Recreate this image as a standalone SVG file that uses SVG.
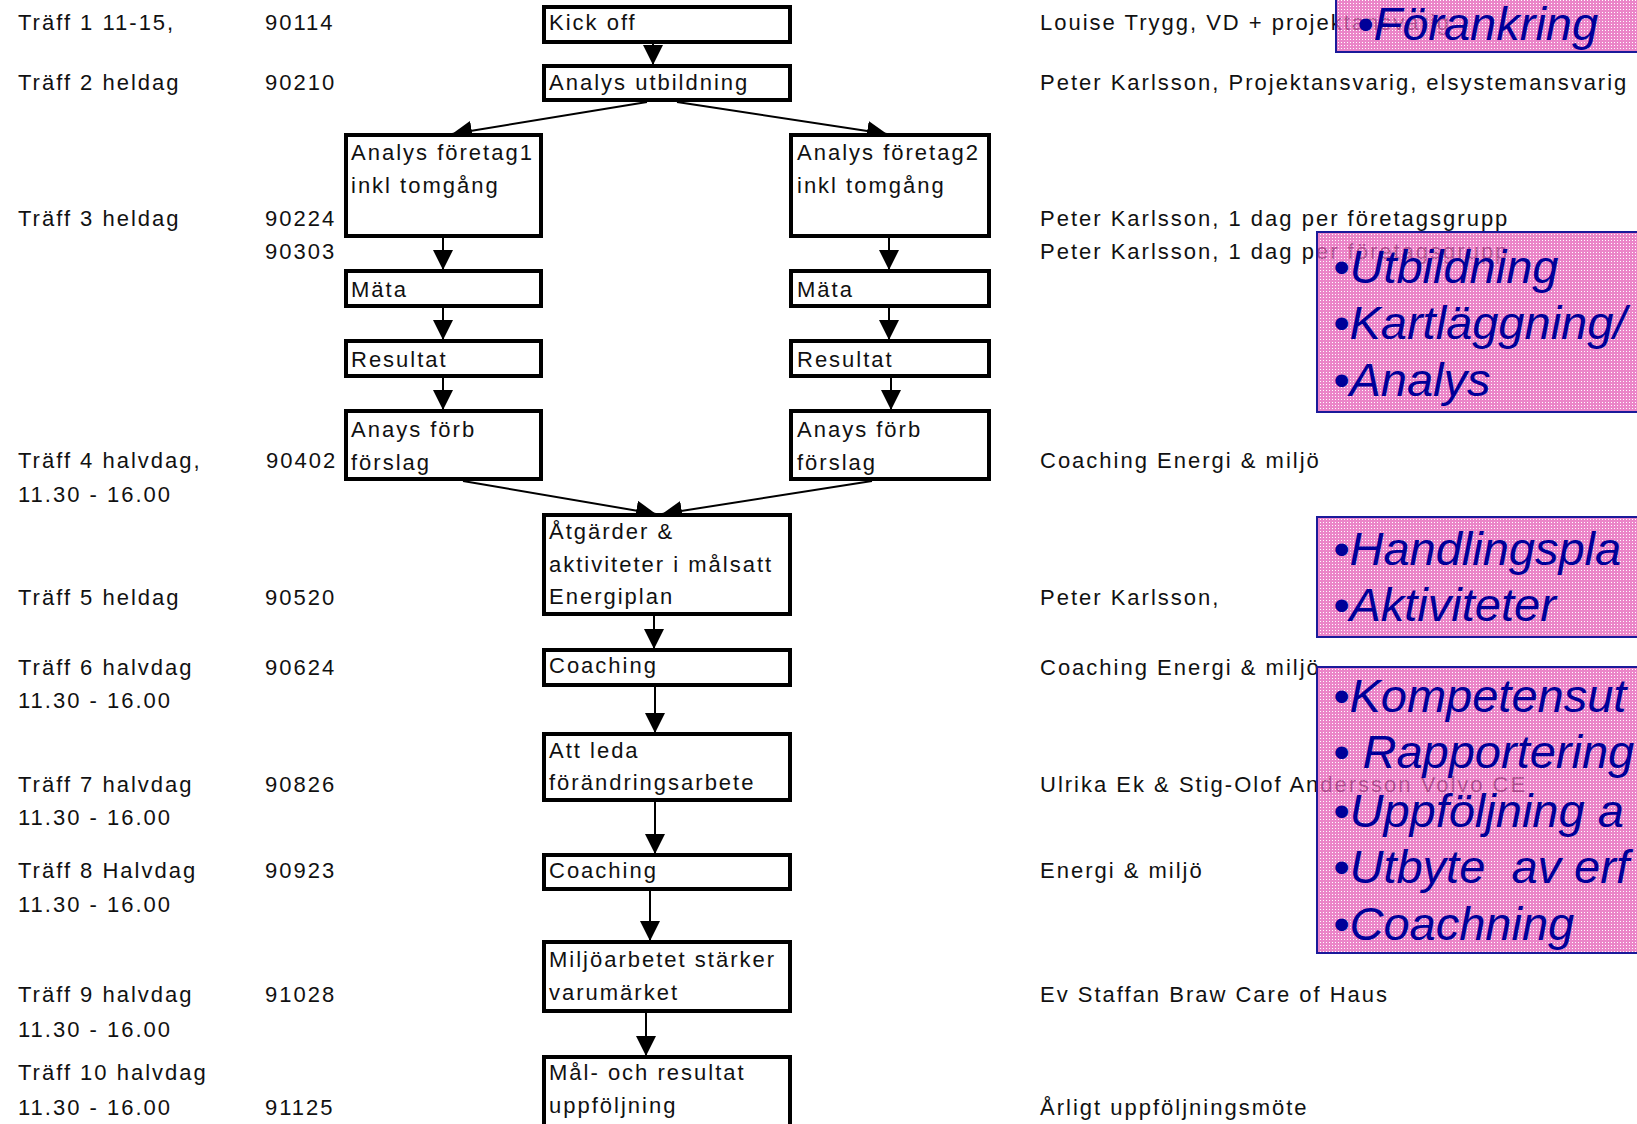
<svg xmlns="http://www.w3.org/2000/svg" width="1637" height="1124" viewBox="0 0 1637 1124">
<style>
  .t { font-family: "Liberation Sans", Arial, sans-serif; font-size: 22px; letter-spacing: 2px; fill: #111; }
  .box { fill: #fff; stroke: #000; stroke-width: 4; }
  .conn { stroke: #000; stroke-width: 2; fill: none; marker-end: url(#arr); }
  .pink { fill: url(#pk); fill-opacity: 0.75; stroke: #1a1a9a; stroke-width: 2; }
  .pt { font-family: "Liberation Sans", Arial, sans-serif; font-size: 47px; font-style: italic; fill: #000099; }
</style>
<defs>
  <marker id="arr" markerUnits="userSpaceOnUse" markerWidth="20" markerHeight="20" refX="20" refY="10" orient="auto">
    <path d="M0,0 L20,10 L0,20 z" fill="#000"/>
  </marker>
  <pattern id="pk" width="3" height="3" patternUnits="userSpaceOnUse">
    <rect width="3" height="3" fill="#e45cb6"/>
    <rect width="1" height="1" fill="#fff"/>
  </pattern>
</defs>
<rect width="1637" height="1124" fill="#fff"/>

<g id="left-column">
  <text class="t" x="18" y="30">Träff 1 11-15,</text>
  <text class="t" x="265" y="30">90114</text>
  <text class="t" x="18" y="90">Träff 2 heldag</text>
  <text class="t" x="265" y="90">90210</text>
  <text class="t" x="18" y="226">Träff 3 heldag</text>
  <text class="t" x="265" y="226">90224</text>
  <text class="t" x="265" y="259">90303</text>
  <text class="t" x="18" y="468">Träff 4 halvdag,</text>
  <text class="t" x="18" y="502">11.30 - 16.00</text>
  <text class="t" x="266" y="468">90402</text>
  <text class="t" x="18" y="605">Träff 5 heldag</text>
  <text class="t" x="265" y="605">90520</text>
  <text class="t" x="18" y="675">Träff 6 halvdag</text>
  <text class="t" x="18" y="708">11.30 - 16.00</text>
  <text class="t" x="265" y="675">90624</text>
  <text class="t" x="18" y="792">Träff 7 halvdag</text>
  <text class="t" x="18" y="825">11.30 - 16.00</text>
  <text class="t" x="265" y="792">90826</text>
  <text class="t" x="18" y="878">Träff 8 Halvdag</text>
  <text class="t" x="18" y="912">11.30 - 16.00</text>
  <text class="t" x="265" y="878">90923</text>
  <text class="t" x="18" y="1002">Träff 9 halvdag</text>
  <text class="t" x="18" y="1037">11.30 - 16.00</text>
  <text class="t" x="265" y="1002">91028</text>
  <text class="t" x="18" y="1080">Träff 10 halvdag</text>
  <text class="t" x="18" y="1115">11.30 - 16.00</text>
  <text class="t" x="265" y="1115">91125</text>
</g>

<g id="right-column">
  <text class="t" x="1040" y="30">Louise Trygg, VD + projektansvarig</text>
  <text class="t" x="1040" y="90">Peter Karlsson, Projektansvarig, elsystemansvarig</text>
  <text class="t" x="1040" y="226">Peter Karlsson, 1 dag per företagsgrupp</text>
  <text class="t" x="1040" y="259">Peter Karlsson, 1 dag per företagsgrupp</text>
  <text class="t" x="1040" y="468">Coaching Energi &amp; miljö</text>
  <text class="t" x="1040" y="605">Peter Karlsson,</text>
  <text class="t" x="1040" y="675">Coaching Energi &amp; miljö</text>
  <text class="t" x="1040" y="792">Ulrika Ek &amp; Stig-Olof Andersson Volvo CE</text>
  <text class="t" x="1040" y="878">Energi &amp; miljö</text>
  <text class="t" x="1040" y="1002">Ev Staffan Braw Care of Haus</text>
  <text class="t" x="1040" y="1115">Årligt uppföljningsmöte</text>
</g>

<g id="connectors">
  <path class="conn" d="M653,44 V65"/>
  <path class="conn" d="M647,102 L452,134"/>
  <path class="conn" d="M677,102 L887,134"/>
  <path class="conn" d="M443,238 V270"/>
  <path class="conn" d="M443,308 V340"/>
  <path class="conn" d="M443,378 V410"/>
  <path class="conn" d="M889,238 V270"/>
  <path class="conn" d="M889,308 V340"/>
  <path class="conn" d="M891,378 V410"/>
  <path class="conn" d="M463,481 L656,514"/>
  <path class="conn" d="M872,481 L662,514"/>
  <path class="conn" d="M654,616 V649"/>
  <path class="conn" d="M655,687 V733"/>
  <path class="conn" d="M655,802 V854"/>
  <path class="conn" d="M650,891 V941"/>
  <path class="conn" d="M646,1013 V1056"/>
</g>

<g id="kickoff"><rect class="box" x="544" y="7" width="246" height="35"/><text class="t" x="549" y="30">Kick off</text></g>
<g id="analys-utbildning"><rect class="box" x="544" y="66" width="246" height="34"/><text class="t" x="549" y="90">Analys utbildning</text></g>
<g id="analys-foretag1"><rect class="box" x="346" y="135" width="195" height="101"/><text class="t" x="351" y="160">Analys företag1</text><text class="t" x="351" y="193">inkl tomgång</text></g>
<g id="analys-foretag2"><rect class="box" x="791" y="135" width="198" height="101"/><text class="t" x="797" y="160">Analys företag2</text><text class="t" x="797" y="193">inkl tomgång</text></g>
<g id="mata1"><rect class="box" x="346" y="271" width="195" height="35"/><text class="t" x="351" y="297">Mäta</text></g>
<g id="mata2"><rect class="box" x="791" y="271" width="198" height="35"/><text class="t" x="797" y="297">Mäta</text></g>
<g id="resultat1"><rect class="box" x="346" y="341" width="195" height="35"/><text class="t" x="351" y="367">Resultat</text></g>
<g id="resultat2"><rect class="box" x="791" y="341" width="198" height="35"/><text class="t" x="797" y="367">Resultat</text></g>
<g id="anays1"><rect class="box" x="346" y="411" width="195" height="68"/><text class="t" x="351" y="437">Anays förb</text><text class="t" x="351" y="470">förslag</text></g>
<g id="anays2"><rect class="box" x="791" y="411" width="198" height="68"/><text class="t" x="797" y="437">Anays förb</text><text class="t" x="797" y="470">förslag</text></g>
<g id="atgarder"><rect class="box" x="544" y="515" width="246" height="99"/><text class="t" x="549" y="539">Åtgärder &amp;</text><text class="t" x="549" y="572">aktiviteter i målsatt</text><text class="t" x="549" y="604">Energiplan</text></g>
<g id="coaching1"><rect class="box" x="544" y="650" width="246" height="35"/><text class="t" x="549" y="673">Coaching</text></g>
<g id="att-leda"><rect class="box" x="544" y="734" width="246" height="66"/><text class="t" x="549" y="758">Att leda</text><text class="t" x="549" y="790">förändringsarbete</text></g>
<g id="coaching2"><rect class="box" x="544" y="855" width="246" height="34"/><text class="t" x="549" y="878">Coaching</text></g>
<g id="miljo"><rect class="box" x="544" y="942" width="246" height="69"/><text class="t" x="549" y="967">Miljöarbetet stärker</text><text class="t" x="549" y="1000">varumärket</text></g>
<g id="mal"><rect class="box" x="544" y="1057" width="246" height="80"/><text class="t" x="549" y="1080">Mål- och resultat</text><text class="t" x="549" y="1113">uppföljning</text></g>

<g id="pink-forankring"><rect class="pink" x="1336" y="-4" width="310" height="56"/><text class="pt" x="1357" y="40">•Förankring</text></g>
<g id="pink-utbildning"><rect class="pink" x="1317" y="232" width="330" height="180"/><text class="pt" x="1333" y="283">•Utbildning</text><text class="pt" x="1333" y="339">•Kartläggning/</text><text class="pt" x="1333" y="396">•Analys</text></g>
<g id="pink-handlingsplan"><rect class="pink" x="1317" y="517" width="330" height="120"/><text class="pt" x="1333" y="565">•Handlingspla</text><text class="pt" x="1333" y="621">•Aktiviteter</text></g>
<g id="pink-kompetens"><rect class="pink" x="1317" y="667" width="330" height="286"/><text class="pt" x="1333" y="712">•Kompetensut</text><text class="pt" x="1333" y="768">• Rapportering</text><text class="pt" x="1333" y="827">•Uppföljning a</text><text class="pt" x="1333" y="883" xml:space="preserve">•Utbyte  av erf</text><text class="pt" x="1333" y="940">•Coachning</text></g>
</svg>
